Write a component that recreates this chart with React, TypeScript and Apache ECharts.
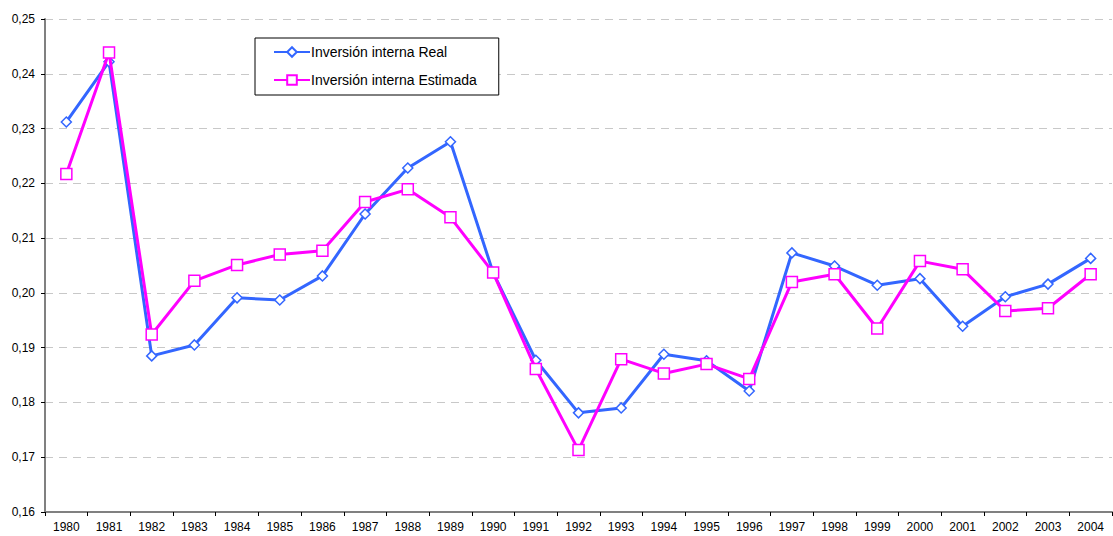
import React, { useEffect, useRef } from "react";
import * as echarts from "echarts";

const years = [
  "1980", "1981", "1982", "1983", "1984", "1985", "1986", "1987", "1988", "1989",
  "1990", "1991", "1992", "1993", "1994", "1995", "1996", "1997", "1998", "1999",
  "2000", "2001", "2002", "2003", "2004",
];

const realName = "Inversión interna Real";
const estName = "Inversión interna Estimada";

const realValues = [
  0.2312, 0.2422, 0.1885, 0.1905, 0.1991, 0.1987, 0.2031, 0.2144, 0.2228, 0.2276,
  0.2037, 0.1877, 0.1781, 0.179, 0.1888, 0.1876, 0.1821, 0.2073, 0.2049, 0.2014,
  0.2026, 0.1939, 0.1993, 0.2016, 0.2063,
];

const estValues = [
  0.2217, 0.2439, 0.1924, 0.2022, 0.2051, 0.207, 0.2077, 0.2166, 0.2189, 0.2138,
  0.2037, 0.1861, 0.1713, 0.1879, 0.1853, 0.187, 0.1843, 0.202, 0.2034, 0.1935,
  0.2058, 0.2043, 0.1967, 0.1972, 0.2034,
];

const yMin = 0.16;
const yMax = 0.25;
const yStep = 0.01;

export default function App() {
  const ref = useRef<HTMLDivElement>(null);

  useEffect(() => {
    if (!ref.current) return;
    const chart = echarts.init(ref.current, undefined, { renderer: "svg" });
    const font = "'Liberation Sans', Arial, sans-serif";
    chart.setOption({
      animation: false,
      backgroundColor: "#ffffff",
      textStyle: { fontFamily: font },
      grid: { left: 45, right: 1, top: 19, bottom: 24, containLabel: false },
      legend: {
        orient: "vertical",
        left: 255,
        top: 38,
        padding: [7, 22, 8, 18],
        itemGap: 14,
        itemWidth: 36,
        itemHeight: 12,
        borderColor: "#000000",
        borderWidth: 1,
        backgroundColor: "#ffffff",
        textStyle: { fontSize: 14, color: "#000000", fontFamily: font, padding: [0, 0, 0, -4] },
        data: [realName, estName],
      },
      xAxis: {
        type: "category",
        data: years,
        boundaryGap: true,
        axisLine: { lineStyle: { color: "#808080", width: 2 } },
        axisTick: { show: true, alignWithLabel: false, length: 4, lineStyle: { color: "#000000", width: 1 } },
        axisLabel: { fontSize: 12, color: "#000000", fontFamily: font, margin: 9, interval: 0 },
        splitLine: { show: false },
      },
      yAxis: {
        type: "value",
        min: yMin,
        max: yMax,
        interval: yStep,
        axisLine: { show: true, lineStyle: { color: "#808080", width: 2 } },
        axisTick: { show: true, length: 4, lineStyle: { color: "#000000", width: 1 } },
        axisLabel: {
          fontSize: 12,
          color: "#000000",
          fontFamily: font,
          margin: 10,
          formatter: (v: number) => v.toFixed(2).replace(".", ","),
        },
        splitLine: { show: true, lineStyle: { color: "#c8c8c8", type: [8, 6], width: 1 } },
      },
      series: [
        {
          name: realName,
          type: "line",
          data: realValues,
          symbol: "diamond",
          symbolSize: 10,
          lineStyle: { color: "#3366ff", width: 3 },
          itemStyle: { color: "#ffffff", borderColor: "#3366ff", borderWidth: 1.5 },
          z: 2,
        },
        {
          name: estName,
          type: "line",
          data: estValues,
          symbol: "rect",
          symbolSize: 11,
          lineStyle: { color: "#ff00ff", width: 3 },
          itemStyle: { color: "#ffffff", borderColor: "#ff00ff", borderWidth: 1.5 },
          z: 3,
        },
      ],
    });
    return () => chart.dispose();
  }, []);

  return (
    <div
      ref={ref}
      style={{ position: "fixed", left: 0, top: 0, width: 1113, height: 536 }}
    />
  );
}
